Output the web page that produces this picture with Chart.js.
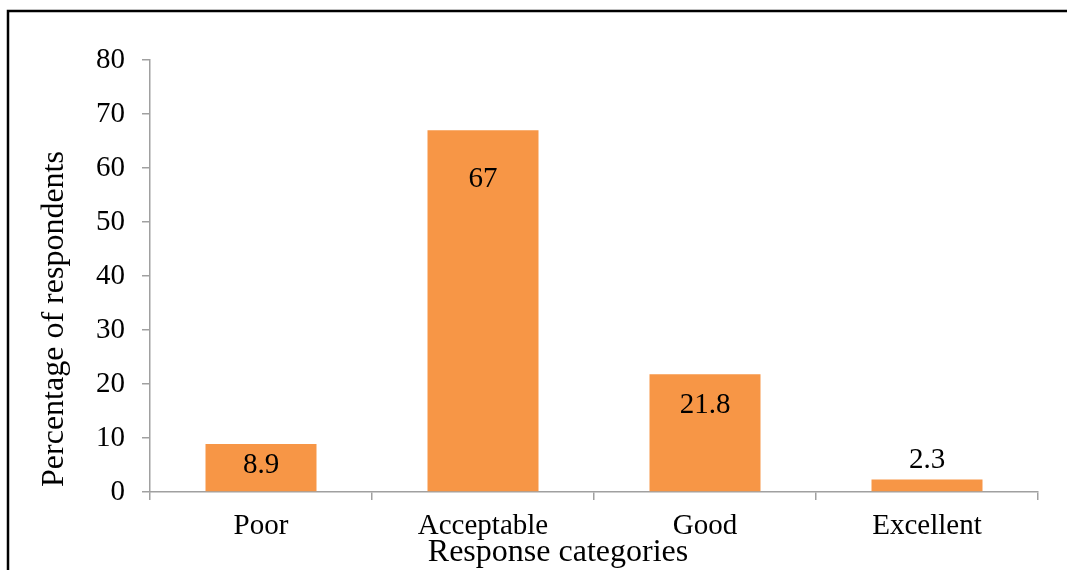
<!DOCTYPE html>
<html>
<head>
<meta charset="utf-8">
<script src="https://cdn.jsdelivr.net/npm/chart.js@4"></script>
<style>
  html, body { margin: 0; padding: 0; background: #fff; }
  #wrap { width: 1067px; height: 570px; position: relative; }
</style>
</head>
<body>
<div id="wrap"><canvas id="responseChart"></canvas></div>
<script>
// data
const categories = ['Poor', 'Acceptable', 'Good', 'Excellent'];
const percentages = [8.9, 67, 21.8, 2.3];
const yTicks = [0, 10, 20, 30, 40, 50, 60, 70, 80];

const serif = '"Liberation Serif", "Times New Roman", serif';
const axisGrey = '#A0A0A0';

// frame, axis titles and value labels
const decor = {
    id: 'decor',
    beforeDraw(chart) {
        const c = chart.ctx;
        c.save();
        c.fillStyle = '#fff';
        c.fillRect(0, 0, chart.width, chart.height);
        c.strokeStyle = '#000';
        c.lineWidth = 2.5;
        c.beginPath();
        c.moveTo(8, chart.height);
        c.lineTo(8, 11);
        c.lineTo(chart.width, 11);
        c.stroke();
        c.restore();
    },
    afterDatasetsDraw(chart, args, opts) {
        const c = chart.ctx;
        const meta = chart.getDatasetMeta(0);
        c.save();
        c.fillStyle = '#000';
        c.textAlign = 'center';
        c.textBaseline = 'middle';
        c.font = '29px ' + serif;
        meta.data.forEach((bar, i) => {
            c.fillText(String(percentages[i]), bar.x, bar.y + opts.labelShift[i]);
        });

        c.font = '32px ' + serif;
        c.fillText('Response categories', 558, 553);
        c.translate(55, 319);
        c.rotate(-Math.PI / 2);
        c.fillText('Percentage of respondents', 0, 0);
        c.restore();
    }
};

new Chart(document.getElementById('responseChart'), {
    type: 'bar',
    data: {
        labels: categories,
        datasets: [{
            data: percentages,
            backgroundColor: '#F79646',
            barPercentage: 0.5,
            categoryPercentage: 1.0
        }]
    },
    options: {
        responsive: true,
        maintainAspectRatio: false,
        animation: false,
        layout: { padding: { top: 60, right: 29, left: 0, bottom: 0 } },
        plugins: {
            legend: { display: false },
            tooltip: { enabled: false },
            decor: { labelShift: [21, 49, 31, -19] }
        },
        scales: {
            x: {
                offset: true,
                grid: { offset: true, drawOnChartArea: false, color: axisGrey, tickLength: 8, lineWidth: 1.5 },
                border: { color: axisGrey, width: 1.5 },
                ticks: { color: '#000', font: { family: serif, size: 29 }, padding: 9, maxRotation: 0 },
                afterFit(scale) { scale.height = 78; }
            },
            y: {
                min: 0,
                max: 80,
                afterBuildTicks(scale) { scale.ticks = yTicks.map(v => ({ value: v })); },
                grid: { drawOnChartArea: false, color: axisGrey, tickLength: 8, lineWidth: 1.5 },
                border: { color: axisGrey, width: 1.5 },
                ticks: { color: '#000', font: { family: serif, size: 29 }, padding: 17 },
                afterFit(scale) { scale.width = 150; }
            }
        }
    },
    plugins: [decor]
});
</script>
</body>
</html>
